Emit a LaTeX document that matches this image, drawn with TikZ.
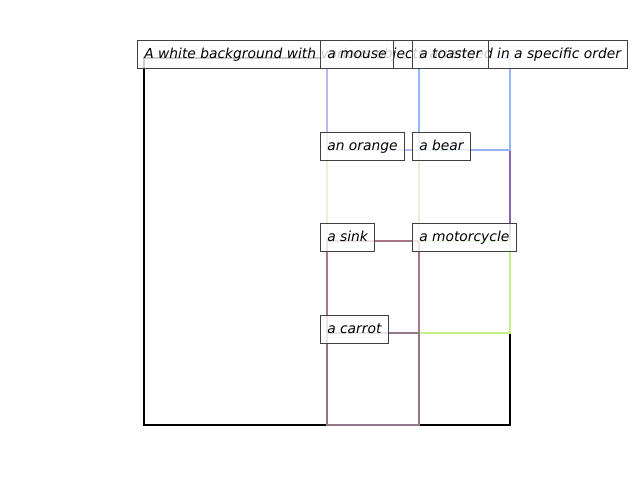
\documentclass[tikz,border=0pt]{standalone}
\usepackage{fontspec}
\setmainfont{DejaVu Sans}
\begin{document}
\begin{tikzpicture}[x=0.72pt,y=-0.72pt,
  objbox/.style={line width=1.9pt},
  lbl/.style={draw=black!75, line width=0.7pt, fill=white, fill opacity=0.8, text opacity=1,
    anchor=north west, text height=7.6pt, text depth=2pt, inner xsep=4.9pt, inner ysep=5.2pt,
    font=\fontsize{9.95}{12}\selectfont\itshape}]
\definecolor{cmouse}{HTML}{B8B8F0}
\definecolor{ctoaster}{HTML}{98B4F4}
\definecolor{corange}{HTML}{EEF0D0}
\definecolor{cbear}{HTML}{8868A8}
\definecolor{csink}{HTML}{A87888}
\definecolor{cmoto}{HTML}{C4F088}
\definecolor{ccarrot}{HTML}{907888}
\useasboundingbox (0,0) rectangle (640,480);
\fill[white] (0,0) rectangle (640,480);
% rectangles
\draw[line width=1.9pt, black] (144,58) rectangle (510,425);
\draw[objbox, cbear] (419,150) rectangle (510,241);
\draw[objbox, corange] (327,150) rectangle (419,241);
\draw[objbox, cmouse] (327,58) rectangle (419,150);
\draw[objbox, ctoaster] (419,58) rectangle (510,150);
\draw[objbox, cmoto] (419,241) rectangle (510,333);
\draw[objbox, csink] (327,241) rectangle (419,333);
\draw[objbox, ccarrot] (327,333) rectangle (419,425);
% labels
\node[lbl] (title) at (137,40) {A white background with various objects arranged in a specific order};
\node[lbl] (mouse) at (320,40) {a mouse};
\node[lbl] (toaster) at (412,40) {a toaster};
\node[lbl] (orange) at (320,132) {an orange};
\node[lbl] (bear) at (412,132) {a bear};
\node[lbl] (sink) at (320,223) {a sink};
\node[lbl] (moto) at (412,223) {a motorcycle};
\node[lbl] (carrot) at (320,315) {a carrot};
\end{tikzpicture}
\end{document}
